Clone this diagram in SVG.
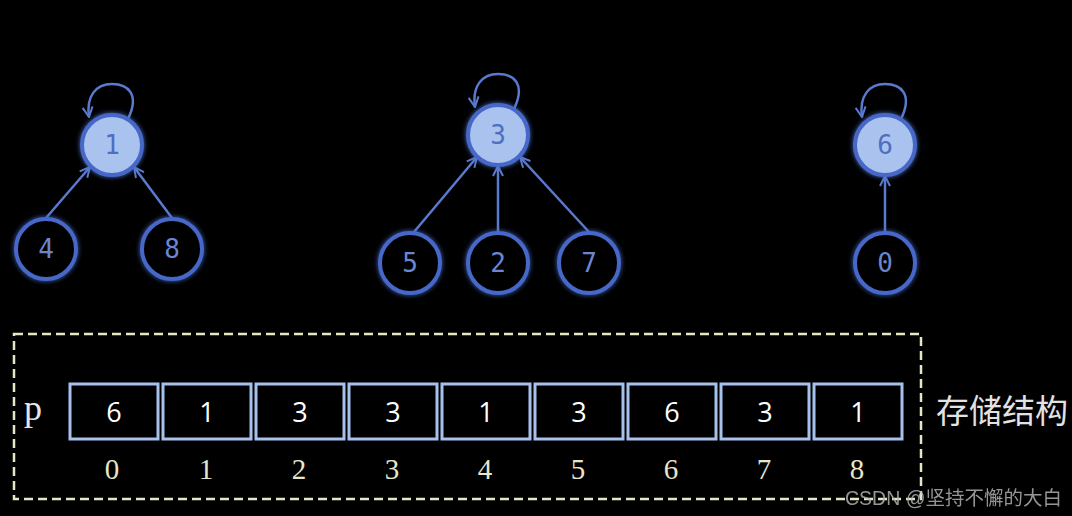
<svg xmlns="http://www.w3.org/2000/svg" width="1072" height="516" viewBox="0 0 1072 516">
<defs>
<filter id="glow" x="-50%" y="-50%" width="200%" height="200%">
<feGaussianBlur in="SourceGraphic" stdDeviation="2.5" result="b"/>
<feMerge><feMergeNode in="b"/><feMergeNode in="SourceGraphic"/></feMerge>
</filter>
<marker id="ah" viewBox="0 0 12 12" refX="11" refY="6" markerWidth="12" markerHeight="12" markerUnits="userSpaceOnUse" orient="auto">
<path d="M1,1 L11,6 L1,11" fill="none" stroke="#5a7ad0" stroke-width="2"/>
</marker>
</defs>
<style>
.root circle{fill:#a9c2ee;stroke:#4668c8;stroke-width:4;filter:url(#glow)}
.leaf circle{fill:#000;stroke:#4668c8;stroke-width:4;filter:url(#glow)}
.nt{font-family:"DejaVu Sans Mono",monospace;font-size:26px;fill:#4f6ebd;text-anchor:middle;dominant-baseline:central}
.leaf .nt{fill:#6a86d0}
.edge{fill:none;stroke:#5a7ad0;stroke-width:2.5;marker-end:url(#ah)}
.cell rect{fill:#000;stroke:#a6c1ec;stroke-width:3}
.cv{font-family:"Open Sans","Liberation Sans",sans-serif;font-size:27px;fill:#fff;text-anchor:middle;dominant-baseline:central}
.idx{font-family:"Liberation Serif",serif;font-size:29px;fill:#e6e6cc;text-anchor:middle}
</style>
<rect width="1072" height="516" fill="#000"/>
<g id="connectors">
<path class="edge" d="M128,119 C140,94 128,84 112,84 C96,84 86,96 89,117"/>
<path class="edge" d="M514,109 C526,84 514,74 498,74 C482,74 472,86 475,107"/>
<path class="edge" d="M901,119 C913,94 901,84 885,84 C869,84 859,96 862,117"/>
<line class="edge" x1="46" y1="218" x2="90" y2="167"/>
<line class="edge" x1="172" y1="218" x2="134" y2="167"/>
<line class="edge" x1="414" y1="232" x2="477" y2="157"/>
<line class="edge" x1="498" y1="232" x2="498" y2="166"/>
<line class="edge" x1="589" y1="232" x2="520" y2="157"/>
<line class="edge" x1="885" y1="232" x2="885" y2="176"/>
</g>
<g id="n1" class="root"><circle cx="112" cy="145" r="30"/><text class="nt" x="112" y="145">1</text></g>
<g id="n4" class="leaf"><circle cx="46" cy="249" r="30"/><text class="nt" x="46" y="249">4</text></g>
<g id="n8" class="leaf"><circle cx="172" cy="249" r="30"/><text class="nt" x="172" y="249">8</text></g>
<g id="n3" class="root"><circle cx="498" cy="135" r="30"/><text class="nt" x="498" y="135">3</text></g>
<g id="n5" class="leaf"><circle cx="410" cy="263" r="30"/><text class="nt" x="410" y="263">5</text></g>
<g id="n2" class="leaf"><circle cx="498" cy="263" r="30"/><text class="nt" x="498" y="263">2</text></g>
<g id="n7" class="leaf"><circle cx="589" cy="263" r="30"/><text class="nt" x="589" y="263">7</text></g>
<g id="n6" class="root"><circle cx="885" cy="145" r="30"/><text class="nt" x="885" y="145">6</text></g>
<g id="n0" class="leaf"><circle cx="885" cy="263" r="30"/><text class="nt" x="885" y="263">0</text></g>
<g id="storage">
<rect x="14" y="334" width="907" height="165" fill="none" stroke="#e6e6c4" stroke-width="2.5" stroke-dasharray="9 5"/>
<text x="24" y="420" font-family="Liberation Serif,serif" font-size="36" fill="#e6e6e6">p</text>
<g class="cell"><rect x="70" y="384" width="88" height="55"/><text class="cv" x="114" y="411">6</text></g>
<g class="cell"><rect x="163" y="384" width="88" height="55"/><text class="cv" x="207" y="411">1</text></g>
<g class="cell"><rect x="256" y="384" width="88" height="55"/><text class="cv" x="300" y="411">3</text></g>
<g class="cell"><rect x="349" y="384" width="88" height="55"/><text class="cv" x="393" y="411">3</text></g>
<g class="cell"><rect x="442" y="384" width="88" height="55"/><text class="cv" x="486" y="411">1</text></g>
<g class="cell"><rect x="535" y="384" width="88" height="55"/><text class="cv" x="579" y="411">3</text></g>
<g class="cell"><rect x="628" y="384" width="88" height="55"/><text class="cv" x="672" y="411">6</text></g>
<g class="cell"><rect x="721" y="384" width="88" height="55"/><text class="cv" x="765" y="411">3</text></g>
<g class="cell"><rect x="814" y="384" width="88" height="55"/><text class="cv" x="858" y="411">1</text></g>
<text class="idx" x="112" y="479">0</text>
<text class="idx" x="206" y="479">1</text>
<text class="idx" x="299" y="479">2</text>
<text class="idx" x="392" y="479">3</text>
<text class="idx" x="485" y="479">4</text>
<text class="idx" x="578" y="479">5</text>
<text class="idx" x="671" y="479">6</text>
<text class="idx" x="764" y="479">7</text>
<text class="idx" x="857" y="479">8</text>
</g>
<text x="936" y="423" font-family="Noto Sans CJK SC,sans-serif" font-size="33" fill="#e2e2e2">存储结构</text>
<text x="845" y="505" font-family="Liberation Sans,Noto Sans CJK SC,sans-serif" font-size="19.5" fill="#b0b0b0" opacity="0.85">CSDN @坚持不懈的大白</text>
</svg>
